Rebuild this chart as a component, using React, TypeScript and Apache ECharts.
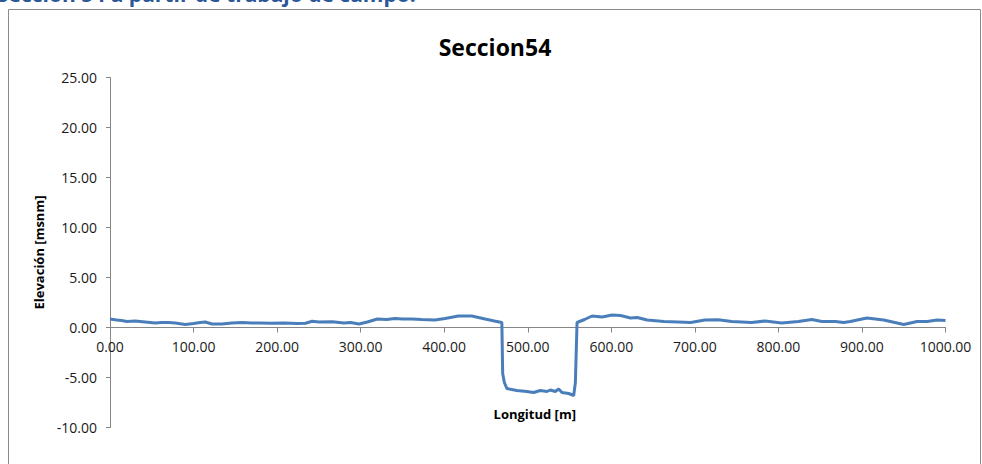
import React, { useEffect, useRef } from "react";
import * as echarts from "echarts";

const distances = [
  0, 4, 8, 14, 20, 30, 42, 54, 62, 70, 78, 90, 100, 108, 114, 122, 134, 146, 158, 170,
  180, 192, 208, 224, 234, 242, 250, 266, 280, 288, 298, 308, 320, 331, 341, 350, 361,
  373, 389, 401, 417, 433, 449, 460, 469, 470, 472, 475, 487, 499, 507, 515, 523, 527,
  533, 537, 541, 549, 555, 557, 559, 568, 577, 589, 601, 611, 623, 631, 643, 663, 680,
  695, 712, 728, 744, 768, 784, 804, 824, 840, 852, 868, 878, 886, 906, 926, 950, 966,
  978, 990, 1000,
];
const elevations = [
  0.85, 0.8, 0.75, 0.7, 0.6, 0.65, 0.55, 0.45, 0.5, 0.5, 0.45, 0.3, 0.4, 0.5, 0.55, 0.35,
  0.35, 0.45, 0.5, 0.45, 0.45, 0.42, 0.45, 0.4, 0.42, 0.62, 0.55, 0.57, 0.45, 0.5, 0.35,
  0.55, 0.85, 0.8, 0.9, 0.85, 0.85, 0.8, 0.75, 0.9, 1.15, 1.15, 0.85, 0.65, 0.5, -4.6,
  -5.5, -6.1, -6.3, -6.4, -6.5, -6.3, -6.4, -6.25, -6.4, -6.15, -6.5, -6.6, -6.8, -5.5,
  0.5, 0.8, 1.15, 1.05, 1.25, 1.2, 0.95, 1.0, 0.75, 0.6, 0.55, 0.5, 0.75, 0.78, 0.6, 0.5,
  0.65, 0.45, 0.6, 0.8, 0.6, 0.6, 0.5, 0.6, 0.95, 0.75, 0.3, 0.6, 0.6, 0.75, 0.7,
];

const chartTitle = "Seccion54";
const caption = "Sección 54 a partir de trabajo de campo.";
const xName = "Longitud [m]";
const yName = "Elevación [msnm]";

const FONT = "'Open Sans', 'Liberation Sans', sans-serif";

export default function App() {
  const ref = useRef<HTMLDivElement>(null);
  useEffect(() => {
    if (!ref.current) return;
    const chart = echarts.init(ref.current, null, { renderer: "svg" });
    const data = distances.map((d, i) => [d, elevations[i]]);
    chart.setOption({
      animation: false,
      backgroundColor: "#ffffff",
      title: {
        text: chartTitle,
        left: 490,
        top: 30,
        textAlign: "center",
        textStyle: { fontFamily: FONT, fontWeight: "bold", fontSize: 23, color: "#000" },
      },
      graphic: [
        {
          type: "rect",
          shape: { x: 8.5, y: 9.5, width: 972, height: 480 },
          style: { fill: "none", stroke: "#8a8a8a", lineWidth: 1 },
          silent: true,
        },
        {
          type: "text",
          x: -3,
          y: 4,
          style: {
            text: caption,
            fontFamily: FONT,
            fontWeight: "bold",
            fontSize: 21,
            fill: "#2b5797",
            verticalAlign: "bottom",
          },
          silent: true,
        },
      ],
      grid: {
        left: 110,
        right: 36.5,
        top: 77.5,
        bottom: 36.5,
        containLabel: false,
        outerBoundsMode: "none",
      },
      xAxis: {
        type: "value",
        min: 0,
        max: 1000,
        interval: 100,
        offset: -100,
        name: xName,
        nameLocation: "middle",
        nameGap: 80,
        nameTextStyle: {
          fontFamily: FONT,
          fontWeight: "bold",
          fontSize: 13,
          color: "#000",
          padding: [0, 0, 0, 14],
        },
        axisLine: { onZero: false, lineStyle: { color: "#868686", width: 1 } },
        axisTick: { show: true, length: 5, lineStyle: { color: "#868686" } },
        axisLabel: {
          margin: 12,
          fontFamily: FONT,
          fontSize: 14,
          color: "#1a1a1a",
          formatter: (v: number) => v.toFixed(2),
        },
        splitLine: { show: false },
      },
      yAxis: {
        type: "value",
        min: -10,
        max: 25,
        interval: 5,
        name: yName,
        nameLocation: "middle",
        nameGap: 64,
        nameTextStyle: { fontFamily: FONT, fontWeight: "bold", fontSize: 13, color: "#000" },
        axisLine: { show: true, onZero: false, lineStyle: { color: "#868686", width: 1 } },
        axisTick: { show: true, length: 4, lineStyle: { color: "#868686" } },
        axisLabel: {
          margin: 13,
          fontFamily: FONT,
          fontSize: 14,
          color: "#1a1a1a",
          formatter: (v: number) => v.toFixed(2),
        },
        splitLine: { show: false },
      },
      series: [
        {
          type: "line",
          data,
          showSymbol: false,
          symbol: "none",
          lineStyle: { color: "#4a7ebb", width: 3 },
          itemStyle: { color: "#4a7ebb" },
        },
      ],
    });
    return () => chart.dispose();
  }, []);
  return (
    <div
      ref={ref}
      style={{ position: "absolute", left: 0, top: 0, width: 982, height: 464, background: "#fff" }}
    />
  );
}
